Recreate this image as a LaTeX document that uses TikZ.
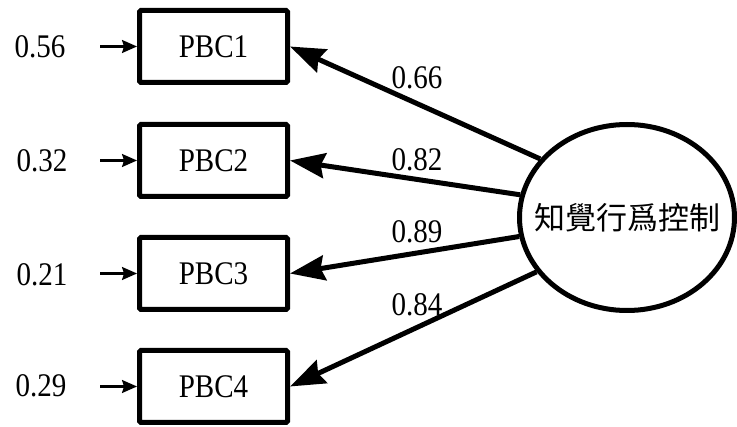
\documentclass[tikz,border=0pt]{standalone}
\usepackage{fontspec}
\setmainfont{Liberation Serif}
\newfontfamily\cjkfont{Noto Sans CJK TC}
\usetikzlibrary{shapes.geometric,arrows.meta}
\newcommand{\narrowtxt}[1]{\scalebox{0.88}[1]{#1}}
\begin{document}
\begin{tikzpicture}[x=1pt,y=-1pt,
  numtext/.style={font=\fontsize{33}{38}\selectfont, inner sep=0pt},
  obsbox/.style={draw, line width=5pt, rounded corners=1.5pt, minimum width=148pt, minimum height=72pt, inner sep=0pt, font=\fontsize{33}{38}\selectfont},
  latent/.style={draw, ellipse, line width=5pt, minimum width=215pt, minimum height=186pt, inner sep=0pt, font=\cjkfont\fontsize{31}{36}\selectfont},
  load/.style={line width=5pt, -{Stealth[length=35pt, width=25pt, inset=4pt]}},
  err/.style={line width=2.2pt, -{Stealth[length=15pt, width=13pt, inset=2pt]}}]
\useasboundingbox (0,0) rectangle (737,427);
\node[obsbox] (b1) at (213.5,46.5) {\narrowtxt{PBC1}};
\node[obsbox] (b2) at (213.5,160.5) {\narrowtxt{PBC2}};
\node[obsbox] (b3) at (213.5,273.5) {\narrowtxt{PBC3}};
\node[obsbox] (b4) at (213.5,386.5) {\narrowtxt{PBC4}};
\node[latent] (f) at (627,217.5) {\makebox[0pt]{知覺行爲控制}};
\node[numtext] (e1) at (40,47) {\narrowtxt{0.56}};
\node[numtext] (e2) at (42,161) {\narrowtxt{0.32}};
\node[numtext] (e3) at (42,275) {\narrowtxt{0.21}};
\node[numtext] (e4) at (41,386) {\narrowtxt{0.29}};
\coordinate (s1) at (100,46.5);
\coordinate (s2) at (100,160.5);
\coordinate (s3) at (100,273.5);
\coordinate (s4) at (100,386.5);
\draw[err] (s1) -- (b1.west);
\draw[err] (s2) -- (b2.west);
\draw[err] (s3) -- (b3.west);
\draw[err] (s4) -- (b4.west);
\draw[load] (f.146) -- (b1.east);
\draw[load] (f.168) -- (b2.east);
\draw[load] (f.190) -- (b3.east);
\draw[load] (f.211) -- (b4.east);
\node[numtext] (l1) at (417,78) {\narrowtxt{0.66}};
\node[numtext] (l2) at (417,160) {\narrowtxt{0.82}};
\node[numtext] (l3) at (417,232) {\narrowtxt{0.89}};
\node[numtext] (l4) at (417,305) {\narrowtxt{0.84}};
\end{tikzpicture}
\end{document}
